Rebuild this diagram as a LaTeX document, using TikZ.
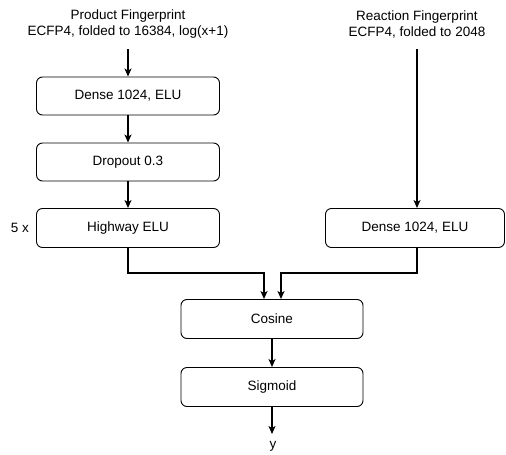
\documentclass[tikz,border=0pt]{standalone}
\usepackage{fontspec}
\setmainfont{Liberation Sans}
\usetikzlibrary{arrows.meta}
\begin{document}
\begin{tikzpicture}[x=1pt,y=-1pt,
  layer/.style={draw, line width=0.9pt, rounded corners=6pt, inner sep=0pt,
    font=\fontsize{13.5}{16}\selectfont, align=center},
  lbl/.style={font=\fontsize{13.5}{16}\selectfont, align=center, inner sep=0pt},
  flow/.style={line width=1.8pt, -{Stealth[length=8pt,width=7pt,inset=2pt]}},
  wire/.style={line width=1.8pt}]
\useasboundingbox (0,0) rectangle (506,455);
% input labels
\node[lbl] (pin) at (128,24) {Product Fingerprint\\ECFP4, folded to 16384, log(x+1)};
\node[lbl] (rin) at (417,24) {Reaction Fingerprint\\ECFP4, folded to 2048};
% product branch
\node[layer, minimum width=183pt, minimum height=38pt] (d1) at (128,96) {Dense 1024, ELU};
\node[layer, minimum width=183pt, minimum height=38pt] (dr) at (128,162) {Dropout 0.3};
\node[layer, minimum width=183pt, minimum height=39pt] (hw) at (128,228) {Highway ELU};
\node[lbl, anchor=east] (rep) at (29,228) {5 x};
% reaction branch
\node[layer, minimum width=179pt, minimum height=39pt] (d2) at (415,228) {Dense 1024, ELU};
% merged head
\node[layer, minimum width=182pt, minimum height=39pt] (cos) at (272,319) {Cosine};
\node[layer, minimum width=182pt, minimum height=39pt] (sig) at (272,387) {Sigmoid};
\node[lbl] (out) at (273,446) {y};
% connectors
\coordinate (p0) at (128,49);
\coordinate (r0) at (417,49);
\coordinate (yend) at (272,434);
\draw[flow] (p0) -- (d1.north);
\draw[flow] (d1.south) -- (dr.north);
\draw[flow] (dr.south) -- (hw.north);
\draw[flow] (r0) -- (r0 |- d2.north);
\draw[flow] (hw.south) -- (128,273) -- (264,273) -- (264,0 |- cos.north);
\draw[flow] (r0 |- d2.south) -- (417,273) -- (281,273) -- (281,0 |- cos.north);
\draw[flow] (cos.south) -- (sig.north);
\draw[flow] (sig.south) -- (yend);
\end{tikzpicture}
\end{document}
